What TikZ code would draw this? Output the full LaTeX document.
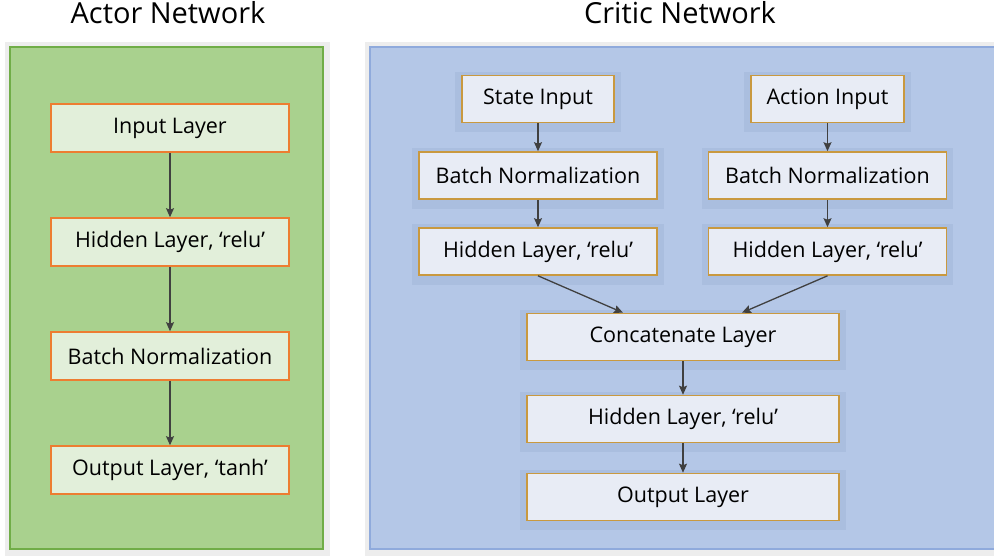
\documentclass[tikz,border=0pt]{standalone}
\usepackage{fontspec}
\setmainfont{Open Sans}
\usetikzlibrary{arrows.meta,backgrounds}

\definecolor{panelshade}{HTML}{EDEDED}
\definecolor{actorfill}{HTML}{A9D18E}
\definecolor{actorline}{HTML}{70AD47}
\definecolor{actorboxfill}{HTML}{E2EFDA}
\definecolor{actorboxline}{HTML}{ED7D31}
\definecolor{criticfill}{HTML}{B4C7E7}
\definecolor{criticline}{HTML}{8FAADC}
\definecolor{criticboxfill}{HTML}{E8ECF5}
\definecolor{criticboxline}{HTML}{C9993F}
\definecolor{boxshadow}{HTML}{AABEDF}
\definecolor{flowline}{HTML}{404040}

\tikzset{
  title/.style={font=\fontsize{29}{33}\selectfont, inner sep=0pt},
  actorbox/.style={draw=actorboxline, fill=actorboxfill, line width=1.6pt,
    minimum width=238pt, minimum height=48pt, inner sep=0pt,
    font=\fontsize{21.5}{25}\selectfont},
  criticbox/.style={draw=criticboxline, fill=criticboxfill, line width=1.6pt,
    minimum width=238pt, minimum height=47pt, inner sep=0pt,
    font=\fontsize{21.5}{25}\selectfont},
  flow/.style={draw=flowline, line width=1.3pt,
    -{Stealth[length=9pt,width=8pt,inset=1.5pt]}},
}

\begin{document}
\begin{tikzpicture}[x=1pt,y=-1pt]
\useasboundingbox (0,0) rectangle (994,556);

% titles
\node[title] (actortitle) at (168,13) {Actor Network};
\node[title] (critictitle) at (680,13) {Critic Network};

% actor network
\node[actorbox] (input) at (170,128) {Input Layer};
\node[actorbox] (hidden) at (170,242) {Hidden Layer, ‘relu’};
\node[actorbox] (batch) at (170,356) {Batch Normalization};
\node[actorbox] (output) at (170,470) {Output Layer, ‘tanh’};

\draw[flow] (input) -- (hidden);
\draw[flow] (hidden) -- (batch);
\draw[flow] (batch) -- (output);

% critic network
\node[criticbox, minimum width=152pt] (state) at (538,99) {State Input};
\node[criticbox] (sbatch) at (538,175.5) {Batch Normalization};
\node[criticbox] (shidden) at (538,251.5) {Hidden Layer, ‘relu’};
\node[criticbox, minimum width=153pt] (action) at (827.5,99) {Action Input};
\node[criticbox] (abatch) at (827.5,175.5) {Batch Normalization};
\node[criticbox] (ahidden) at (827.5,251.5) {Hidden Layer, ‘relu’};
\node[criticbox, minimum width=312pt] (concat) at (683,337) {Concatenate Layer};
\node[criticbox, minimum width=312pt] (chidden) at (683,419) {Hidden Layer, ‘relu’};
\node[criticbox, minimum width=312pt] (coutput) at (683,497) {Output Layer};

\draw[flow] (state) -- (sbatch);
\draw[flow] (sbatch) -- (shidden);
\draw[flow] (action) -- (abatch);
\draw[flow] (abatch) -- (ahidden);
\draw[flow] (shidden.south) -- ([xshift=-60pt]concat.north);
\draw[flow] (ahidden.south) -- ([xshift=59pt]concat.north);
\draw[flow] (concat) -- (chidden);
\draw[flow] (chidden) -- (coutput);

% panels and box shadows
\begin{scope}[on background layer]
  \fill[panelshade] (5,42) rectangle (330,556);
  \fill[panelshade] (365,42) rectangle (994,556);
  \draw[draw=actorline, fill=actorfill, line width=2.5pt] (10,47) rectangle (323,549);
  \draw[draw=criticline, fill=criticfill, line width=2.5pt] (370,47) rectangle (1000,549);
  \foreach \n in {state,sbatch,shidden,action,abatch,ahidden,concat,chidden,coutput}
    \fill[boxshadow] ([xshift=-6pt,yshift=3pt]\n.north west) rectangle ([xshift=6pt,yshift=-9pt]\n.south east);
\end{scope}
\end{tikzpicture}
\end{document}
